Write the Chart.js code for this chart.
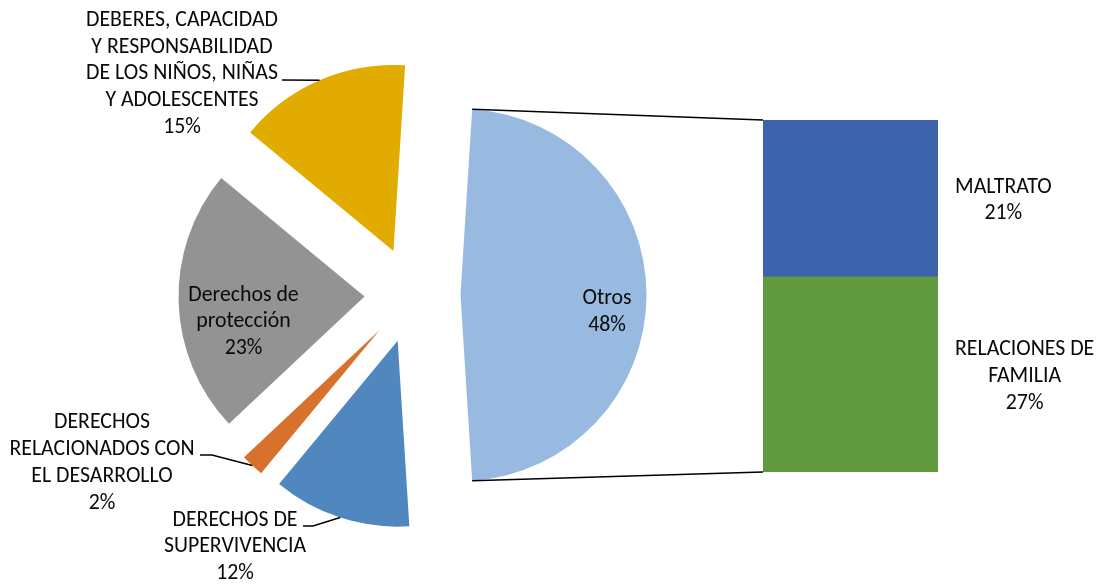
<!DOCTYPE html>
<html><head><meta charset="utf-8">
<script src="https://cdn.jsdelivr.net/npm/chart.js@4.4.1/dist/chart.umd.min.js"></script>
<style>
html,body{margin:0;padding:0;background:#fff;width:1102px;height:586px;overflow:hidden}
.wrap{position:absolute;left:0;top:0;width:1102px;height:586px}
canvas{position:absolute;left:0;top:0}
</style></head>
<body>
<div class="wrap"><canvas id="pie" width="1102" height="586"></canvas></div>
<div class="wrap"><canvas id="bar" width="1102" height="586"></canvas></div>
<script>
// ---- data ----
const pieCategories = ['Otros', 'DERECHOS DE SUPERVIVENCIA', 'DERECHOS RELACIONADOS CON EL DESARROLLO', 'Derechos de protección', 'DEBERES, CAPACIDAD Y RESPONSABILIDAD DE LOS NIÑOS, NIÑAS Y ADOLESCENTES'];
const pieValues = [48, 12, 2, 23, 15];
const pieLabelLines = [
  ['Otros'],
  ['DERECHOS DE', 'SUPERVIVENCIA'],
  ['DERECHOS', 'RELACIONADOS CON', 'EL DESARROLLO'],
  ['Derechos de', 'protección'],
  ['DEBERES, CAPACIDAD', 'Y RESPONSABILIDAD', 'DE LOS NIÑOS, NIÑAS', 'Y ADOLESCENTES']
];
const barCategories = ['Otros'];
const barSeriesNames = ['RELACIONES DE FAMILIA', 'MALTRATO'];
const barValues = [26.6, 21.4];
const barLabelLines = [['RELACIONES DE', 'FAMILIA'], ['MALTRATO']];

// ---- styles ----
const pieColors = ['#99BAE0', '#4F87BE', '#D7712C', '#939393', '#E2AB00'];
const barColors = ['#619A3E', '#3C63AC'];
const FAMILY = 'Carlito, Lato, sans-serif';
const mc = document.createElement('canvas').getContext('2d');
mc.font = '100px ' + FAMILY;
const FONT_SIZE = 100 * 192 / mc.measureText('DEBERES, CAPACIDAD').width;
const FONT = FONT_SIZE.toFixed(2) + 'px ' + FAMILY;
const LINE_H = 26.7;
const TEXT_COLOR = '#0a0a0a';
const EXPLODE = 48;
// label block centres & leader elbows (text placement)
const pieLabelStyle = [
  {x: 607, y: 312},
  {x: 235, y: 547, leader: [[303, 526], [313, 526]]},
  {x: 102, y: 463, leader: [[200, 455], [212, 455]]},
  {x: 243.5, y: 322},
  {x: 182, y: 74, leader: [[282, 80]]}
];

function drawLines(ctx, lines, cx, cy) {
  ctx.save();
  ctx.font = FONT; ctx.fillStyle = TEXT_COLOR;
  ctx.textAlign = 'center'; ctx.textBaseline = 'middle';
  const top = cy - (lines.length - 1) * LINE_H / 2;
  lines.forEach((t, i) => ctx.fillText(t, cx, top + i * LINE_H));
  ctx.restore();
}

const explodePlugin = {
  id: 'explode',
  afterDatasetsUpdate(chart) {
    chart.getDatasetMeta(0).data.forEach(a => {
      const mid = (a.startAngle + a.endAngle) / 2;
      a.x += Math.cos(mid) * EXPLODE;
      a.y += Math.sin(mid) * EXPLODE;
    });
  }
};

const pieLabelPlugin = {
  id: 'pieLabels',
  afterDraw(chart) {
    const ctx = chart.ctx;
    chart.getDatasetMeta(0).data.forEach((a, i) => {
      const st = pieLabelStyle[i];
      const lines = pieLabelLines[i].concat([Math.round(pieValues[i]) + '%']);
      drawLines(ctx, lines, st.x, st.y);
      if (st.leader) {
        const mid = (a.startAngle + a.endAngle) / 2;
        const px = a.x + Math.cos(mid) * a.outerRadius;
        const py = a.y + Math.sin(mid) * a.outerRadius;
        ctx.save();
        ctx.strokeStyle = '#000'; ctx.lineWidth = 1.5;
        ctx.beginPath();
        ctx.moveTo(st.leader[0][0], st.leader[0][1]);
        for (let k = 1; k < st.leader.length; k++) ctx.lineTo(st.leader[k][0], st.leader[k][1]);
        ctx.lineTo(px, py);
        ctx.stroke();
        ctx.restore();
      }
    });
  }
};

const pieChart = new Chart(document.getElementById('pie'), {
  type: 'pie',
  data: {
    labels: pieCategories,
    datasets: [{data: pieValues, backgroundColor: pieColors, borderWidth: 0, radius: 186}]
  },
  options: {
    responsive: false, animation: false, events: [],
    rotation: 3.6,
    radius: 186,
    layout: {padding: {left: 0, right: 277, top: 4, bottom: 0}},
    plugins: {legend: {display: false}, tooltip: {enabled: false}}
  },
  plugins: [explodePlugin, pieLabelPlugin]
});

const barLabelPlugin = {
  id: 'barLabels',
  afterDraw(chart) {
    const ctx = chart.ctx;
    chart.data.datasets.forEach((ds, i) => {
      const el = chart.getDatasetMeta(i).data[0];
      const lines = barLabelLines[i].concat([Math.round(barValues[i]) + '%']);
      ctx.save(); ctx.font = FONT;
      const bw = Math.max(...lines.map(t => ctx.measureText(t).width));
      ctx.restore();
      const left = el.x + el.width / 2 + 17;
      drawLines(ctx, lines, left + bw / 2, (el.y + el.base) / 2 + 2);
    });
  }
};

const connectorPlugin = {
  id: 'connector',
  afterDraw(chart) {
    const ctx = chart.ctx;
    const a = pieChart.getDatasetMeta(0).data[0];
    const topEl = chart.getDatasetMeta(chart.data.datasets.length - 1).data[0];
    const botEl = chart.getDatasetMeta(0).data[0];
    const bx = topEl.x - topEl.width / 2;
    ctx.save();
    ctx.strokeStyle = '#000'; ctx.lineWidth = 1.5;
    ctx.beginPath();
    ctx.moveTo(a.x + Math.cos(a.startAngle) * a.outerRadius, a.y + Math.sin(a.startAngle) * a.outerRadius);
    ctx.lineTo(bx, Math.min(topEl.y, topEl.base));
    ctx.moveTo(a.x + Math.cos(a.endAngle) * a.outerRadius, a.y + Math.sin(a.endAngle) * a.outerRadius);
    ctx.lineTo(bx, Math.max(botEl.y, botEl.base));
    ctx.stroke();
    ctx.restore();
  }
};

new Chart(document.getElementById('bar'), {
  type: 'bar',
  data: {
    labels: barCategories,
    datasets: barValues.map((v, i) => ({
      label: barSeriesNames[i], data: [v], backgroundColor: barColors[i],
      borderWidth: 0, barPercentage: 1, categoryPercentage: 1
    }))
  },
  options: {
    responsive: false, animation: false, events: [],
    layout: {padding: {left: 763, right: 164, top: 120, bottom: 114}},
    scales: {
      x: {display: false, stacked: true},
      y: {display: false, stacked: true, min: 0, max: barValues.reduce((s, v) => s + v, 0)}
    },
    plugins: {legend: {display: false}, tooltip: {enabled: false}}
  },
  plugins: [barLabelPlugin, connectorPlugin]
});
</script>
</body></html>
